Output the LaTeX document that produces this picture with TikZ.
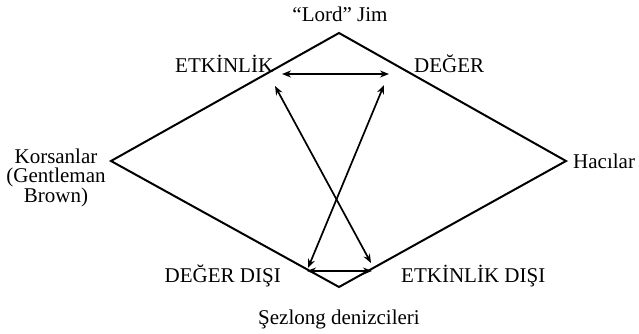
\documentclass[tikz,border=0pt]{standalone}
\usepackage{fontspec}
\setmainfont{Liberation Serif}
\usetikzlibrary{arrows.meta}
\begin{document}
\begin{tikzpicture}[x=1pt,y=-1pt,
  lbl/.style={font=\fontsize{21}{19}\selectfont, inner sep=0pt},
  edge/.style={line width=2pt, line join=miter},
  dbl/.style={line width=1.7pt, {Stealth[length=9pt,width=7pt]}-{Stealth[length=9pt,width=7pt]}}]
\useasboundingbox (0,0) rectangle (639,334);
\coordinate (T) at (339,33);
\coordinate (R) at (566,161);
\coordinate (B) at (339,287);
\coordinate (L) at (111,161);
\draw[edge] (T) -- (R) -- (B) -- (L) -- cycle;
\node[lbl] (jim) at (340,14) {“Lord” Jim};
\node[lbl, anchor=west] (etk) at (175,64) {ETKİNLİK};
\node[lbl, anchor=west] (deg) at (414,64) {DEĞER};
\node[lbl, anchor=east] (degd) at (281,276) {DEĞER DIŞI};
\node[lbl, anchor=west] (etkd) at (401,276) {ETKİNLİK DIŞI};
\node[lbl] (sez) at (339,319) {Şezlong denizcileri};
\node[lbl, align=center] (kor) at (56,178) {Korsanlar\\(Gentleman\\Brown)};
\node[lbl, anchor=west] (hac) at (573,161) {Hacılar};
\coordinate (a1) at (282,74);
\coordinate (a2) at (389,74);
\coordinate (b1) at (307,271);
\coordinate (b2) at (372,271);
\coordinate (c1) at (275,86);
\coordinate (c2) at (371,263);
\coordinate (d1) at (384,85);
\coordinate (d2) at (308,268);
\draw[dbl] (a1) -- (a2);
\draw[dbl] (b1) -- (b2);
\draw[dbl] (c1) -- (c2);
\draw[dbl] (d1) -- (d2);
\end{tikzpicture}
\end{document}
